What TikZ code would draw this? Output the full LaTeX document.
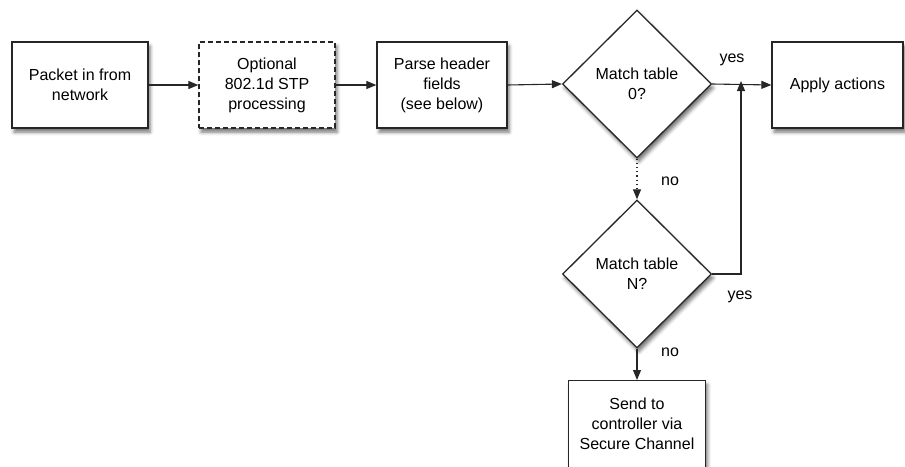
\documentclass[tikz,border=0pt]{standalone}
\usepackage{fontspec}
\setmainfont{Liberation Sans}
\usetikzlibrary{shapes.geometric,arrows.meta,shadows.blur}
\tikzset{
  base/.style={draw=black!85, line width=1.3pt, fill=white, align=center,
    font=\fontsize{16}{20}\selectfont,
    blur shadow={shadow xshift=2pt, shadow yshift=-4pt, shadow blur radius=3.5pt, shadow opacity=55}},
  box/.style={base, rectangle, inner sep=0pt},
  dbox/.style={box, dash pattern=on 5pt off 3pt},
  dia/.style={base, diamond, inner sep=0pt, minimum width=149pt, minimum height=148pt},
  conn/.style={draw=black!85, line width=1.1pt, -{Triangle[length=10pt,width=8pt]}},
  dotconn/.style={conn, dash pattern=on 1.2pt off 3pt},
  lbl/.style={font=\fontsize{16}{20}\selectfont}
}
\begin{document}
\begin{tikzpicture}[x=1pt,y=-1pt]
\useasboundingbox (0,0) rectangle (905,466);
\node[box, minimum width=136pt, minimum height=86pt] (pkt) at (80,85) {Packet in from\\network};
\node[dbox, minimum width=136pt, minimum height=86pt] (stp) at (267,85) {Optional\\802.1d STP\\processing};
\node[box, minimum width=130pt, minimum height=86pt] (parse) at (442,85) {Parse header\\fields\\(see below)};
\node[dia] (m0) at (637,84) {Match table\\0?};
\node[box, minimum width=131pt, minimum height=86pt] (apply) at (837.5,85) {Apply actions};
\node[dia] (mn) at (637,274) {Match table\\N?};
\node[box, minimum width=137pt, minimum height=110pt, anchor=north] (send) at (637,380) {Send to\\controller via\\Secure Channel\\[4pt]~};
\coordinate (join) at (741,84);
\coordinate (bend) at (741,274);
\draw[conn] (pkt.east) -- (stp.west);
\draw[conn] (stp.east) -- (parse.west);
\draw[conn] (parse.east) -- (m0.west);
\draw[conn] (m0.east) -- (apply.west);
\draw[dotconn] (m0.south) -- (mn.north);
\draw[conn] (mn.south) -- (send.north);
\draw[conn] (mn.east) -- (bend) -- ([yshift=3pt]join);
\node[lbl] (y1) at (732,60) {yes};
\node[lbl] (y2) at (740,297) {yes};
\node[lbl] (n1) at (670,181) {no};
\node[lbl] (n2) at (670,352) {no};
\end{tikzpicture}
\end{document}
